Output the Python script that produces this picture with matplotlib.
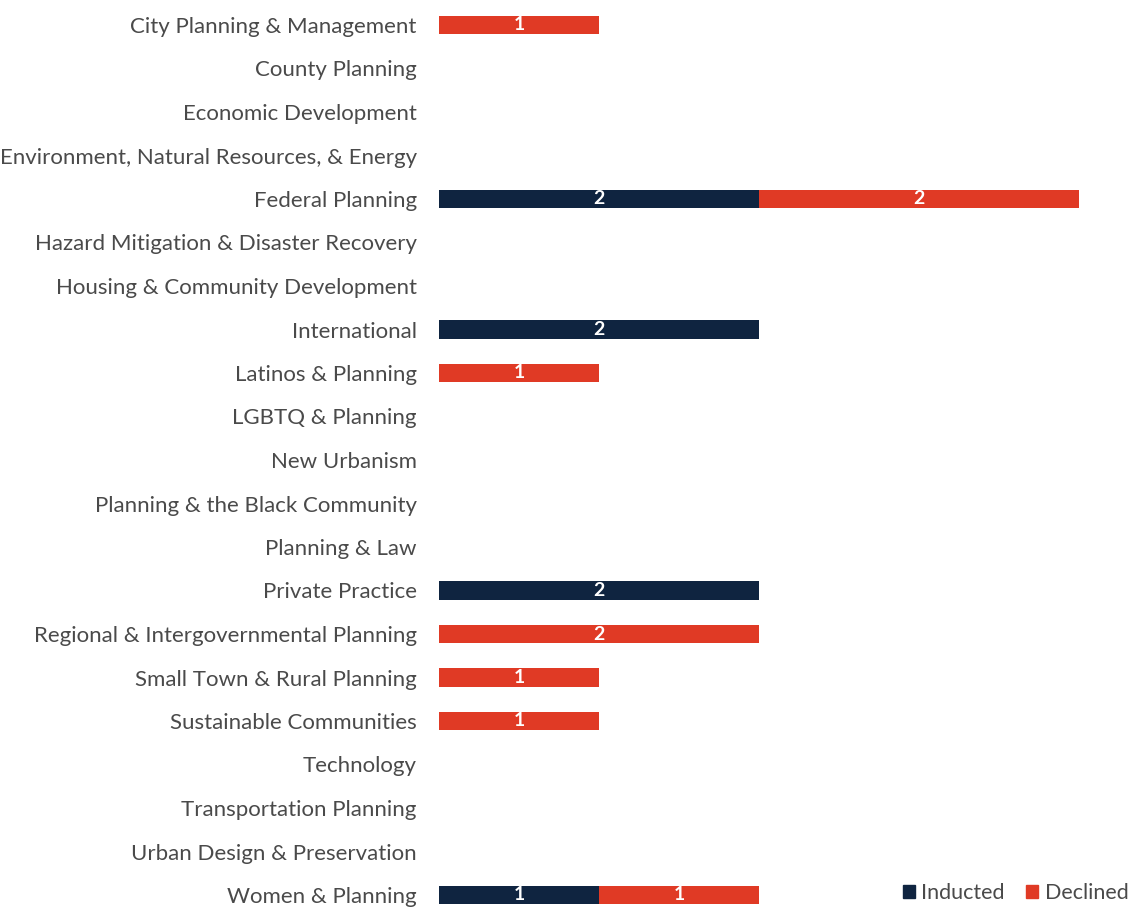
import matplotlib.pyplot as plt
from matplotlib.patches import Patch
import numpy as np

categories = [
    'City Planning & Management', 'County Planning', 'Economic Development',
    'Environment, Natural Resources, & Energy', 'Federal Planning',
    'Hazard Mitigation & Disaster Recovery', 'Housing & Community Development',
    'International', 'Latinos & Planning', 'LGBTQ & Planning', 'New Urbanism',
    'Planning & the Black Community', 'Planning & Law', 'Private Practice',
    'Regional & Intergovernmental Planning', 'Small Town & Rural Planning',
    'Sustainable Communities', 'Technology', 'Transportation Planning',
    'Urban Design & Preservation', 'Women & Planning',
]
inducted = [0, 0, 0, 0, 2, 0, 0, 2, 0, 0, 0, 0, 0, 2, 0, 0, 0, 0, 0, 0, 1]
declined = [1, 0, 0, 0, 2, 0, 0, 0, 1, 0, 0, 0, 0, 0, 2, 1, 1, 0, 0, 0, 1]

NAVY = '#0f2440'
RED = '#e03a25'
TEXT = '#4a4a4a'

plt.rcParams['font.family'] = ['Lato', 'DejaVu Sans']

fig = plt.figure(figsize=(11.35, 9.1), dpi=100)
ax = fig.add_axes([439 / 1135, 0, (1100 - 439) / 1135, 1])

y = np.arange(len(categories))
ind = np.array(inducted)
dec = np.array(declined)
h = 0.42
ax.barh(y, ind, height=h, color=NAVY)
ax.barh(y, dec, left=ind, height=h, color=RED)

# value labels
for i in range(len(categories)):
    if ind[i] > 0:
        ax.text(ind[i] / 2, i, str(ind[i]), ha='center', va='center',
                color='white', fontsize=14, fontweight='bold')
    if dec[i] > 0:
        ax.text(ind[i] + dec[i] / 2, i, str(dec[i]), ha='center', va='center',
                color='white', fontsize=14, fontweight='bold')

ax.set_xlim(0, (1100 - 439) / 160)
ax.set_ylim(885 / 43.5, -25 / 43.5)
ax.set_yticks(y)
ax.set_yticklabels(categories, fontsize=16, color=TEXT)
ax.tick_params(axis='y', length=0, pad=16)
ax.set_xticks([])
for s in ax.spines.values():
    s.set_visible(False)

handles = [Patch(color=NAVY, label='Inducted'), Patch(color=RED, label='Declined')]
fig.legend(handles=handles, loc='center right', bbox_to_anchor=(1.0, 1 - 893 / 910),
           ncol=2, frameon=False, fontsize=15.5, labelcolor=TEXT, handlelength=0.55,
           handleheight=0.55, handletextpad=0.3, columnspacing=1.0,
           borderaxespad=0.0, borderpad=0.3)

fig.savefig('out.png', dpi=100)
